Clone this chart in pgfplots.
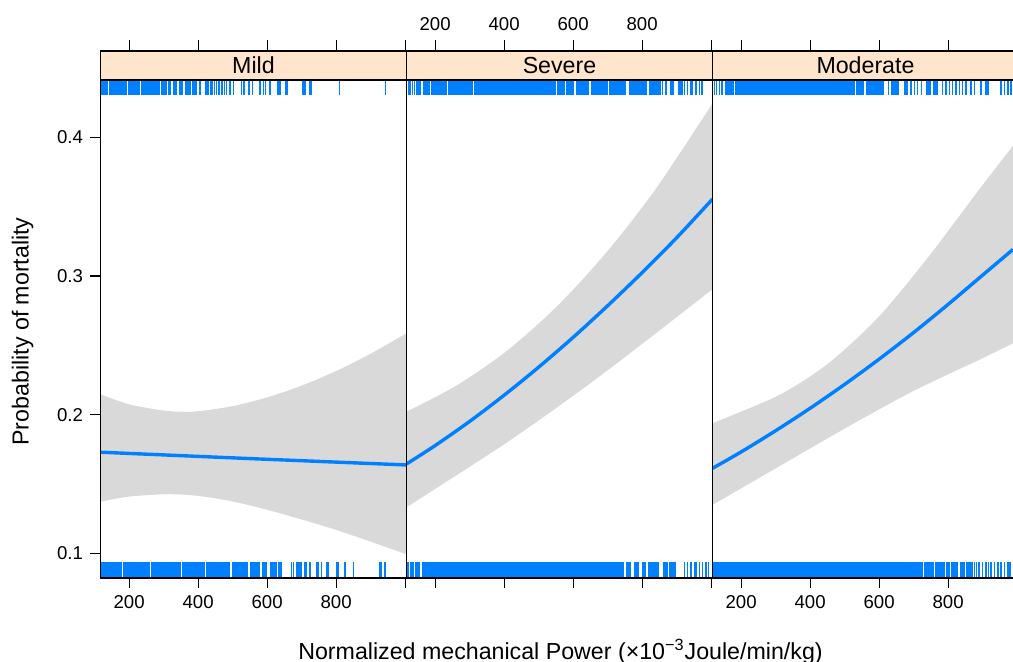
\documentclass[border=0pt]{standalone}
\usepackage{fontspec}
\setmainfont{Liberation Sans}
\usepackage{pgfplots}
\pgfplotsset{compat=1.18}
\usepgfplotslibrary{fillbetween}

\definecolor{rugc}{HTML}{0080FF}
\definecolor{fitc}{HTML}{0080FF}
\definecolor{bandc}{HTML}{D9D9D9}
\definecolor{stripc}{HTML}{FFE5CC}

\newcommand\ticksize{\fontsize{9.3}{11}\selectfont}
\newcommand\labsize{\fontsize{11.6}{13}\selectfont}

% rug heights (axis units)
\def\yt{0.43595}
\def\yb{0.0880}

\tikzset{strip/.style={fill=stripc, draw=black, line width=0.8pt}}

\pgfplotsset{
  panel/.style={
    scale only axis, width=153pt, height=263.5pt,
    xmin=117, xmax=1004, ymin=0.0823, ymax=0.4623,
    axis on top,
    tick align=outside, major tick length=5.25pt,
    xtick={200,400,600,800,1000}, xticklabels={200,400,600,800,},
    xtick pos=both,
    ytick=\empty,
    axis line style={line width=0.8pt},
    every tick/.style={black, line width=0.6pt},
    tick label style={font=\ticksize},
    /pgf/number format/assume math mode=true,
  },
  toprug/.style={rugc, line width=7.5pt, unbounded coords=jump, forget plot},
  botrug/.style={rugc, line width=7.85pt, unbounded coords=jump, forget plot},
  toptick/.style={draw=rugc, only marks, mark=|, mark size=3.75pt, mark options={draw=rugc, line width=0.7pt}, forget plot},
  bottick/.style={draw=rugc, only marks, mark=|, mark size=3.925pt, mark options={draw=rugc, line width=0.7pt}, forget plot},
  fitline/.style={fitc, line width=1.7pt, smooth},
}

\begin{document}
\begin{tikzpicture}

% ---------------- Mild ----------------
\begin{axis}[panel, name=p1, at={(50.25pt,42pt)}, anchor=south west,
  xticklabel pos=lower,
  ytick={0.1,0.2,0.3,0.4}, ytick pos=left,
  yticklabel style={/pgf/number format/.cd, fixed, fixed zerofill, precision=1}]
\addplot[name path=up, draw=none, smooth] coordinates {
  (117,0.2148) (200,0.2075) (300,0.2030) (353,0.2022) (400,0.2025) (500,0.2062)
  (600,0.2125) (700,0.2210) (800,0.2315) (900,0.2440) (1004,0.2588)};
\addplot[name path=lo, draw=none, smooth] coordinates {
  (117,0.1373) (200,0.1410) (311,0.1427) (400,0.1415) (500,0.1375) (600,0.1315)
  (700,0.1245) (800,0.1170) (900,0.1085) (1004,0.0994)};
\addplot[bandc] fill between[of=up and lo];
\addplot[fitline] coordinates {(117,0.1730) (560,0.1683) (1004,0.1638)};
% rugs
\addplot[toprug] coordinates {
  (118,\yt)(140,\yt)(141,nan)(142,\yt)(170,\yt)(171,nan)(172,\yt)(195,\yt)(196,nan)
  (197,\yt)(232,\yt)(233,nan)(234,\yt)(290,\yt)(291,nan)(292,\yt)(309,\yt)(310,nan)
  (314,\yt)(321,\yt)(322,nan)(326,\yt)(340,\yt)(341,nan)(345,\yt)(357,\yt)(358,nan)
  (362,\yt)(380,\yt)(381,nan)(382,\yt)(398,\yt)(399,nan)(402,\yt)(408,\yt)(409,nan)
  (420,\yt)(431,\yt)(432,nan)(433,\yt)(444,\yt)};
\addplot[toptick] coordinates {
  (447,\yt)(454,\yt)(461,\yt)(469,\yt)(476,\yt)(483,\yt)(492,\yt)(502,\yt)(526,\yt)
  (533,\yt)(547,\yt)(557,\yt)(579,\yt)(589,\yt)(596,\yt)(608,\yt)(632,\yt)(637,\yt)
  (654,\yt)(658,\yt)(702,\yt)(707,\yt)(712,\yt)(724,\yt)(729,\yt)(809,\yt)(944,\yt)};
\addplot[botrug] coordinates {
  (117,\yb)(180,\yb)(181,nan)(182,\yb)(260,\yb)(261,nan)(262,\yb)(350,\yb)(351,nan)
  (352,\yb)(420,\yb)(421,nan)(422,\yb)(492,\yb)(494,nan)(497,\yb)(545,\yb)(547,nan)
  (550,\yb)(579,\yb)(581,nan)(584,\yb)(599,\yb)(601,nan)(608,\yb)(628,\yb)(630,nan)
  (632,\yb)(642,\yb)};
\addplot[bottick] coordinates {
  (671,\yb)(676,\yb)(686,\yb)(690,\yb)(695,\yb)(700,\yb)(710,\yb)(715,\yb)(724,\yb)
  (744,\yb)(748,\yb)(758,\yb)(772,\yb)(777,\yb)(801,\yb)(806,\yb)(826,\yb)(850,\yb)
  (927,\yb)(932,\yb)(942,\yb)};
\end{axis}

% ---------------- Severe ----------------
\begin{axis}[panel, name=p2, at={(203.25pt,42pt)}, anchor=south west,
  xticklabel pos=upper, xticklabel style={yshift=1.5pt}]
\addplot[name path=up, draw=none, smooth] coordinates {
  (117,0.2022) (260,0.2208) (405,0.2455) (550,0.2774) (695,0.3166) (840,0.3630) (1004,0.4245)};
\addplot[name path=lo, draw=none, smooth] coordinates {
  (117,0.1333) (260,0.1561) (405,0.1795) (550,0.2047) (695,0.2311) (840,0.2588) (1004,0.2905)};
\addplot[bandc] fill between[of=up and lo];
\addplot[fitline] coordinates {
  (117,0.1645) (200,0.1778) (300,0.1952) (400,0.2141) (500,0.2343) (600,0.2558)
  (700,0.2786) (800,0.3025) (900,0.3276) (1004,0.3555)};
\addplot[toptick] coordinates {
  (122,\yt)(127,\yt)(134,\yt)(140,\yt)(147,\yt)(151,\yt)(156,\yt)
  (859,\yt)(869,\yt)(884,\yt)(889,\yt)
  (922,\yt)(932,\yt)(942,\yt)(946,\yt)(956,\yt)(966,\yt)(973,\yt)};
\addplot[toprug] coordinates {
  (164,\yt)(185,\yt)(186,nan)(188,\yt)(235,\yt)(236,nan)(238,\yt)(310,\yt)(311,nan)
  (313,\yt)(550,\yt)(551,nan)(552,\yt)(575,\yt)(576,nan)(578,\yt)(603,\yt)(605,nan)
  (608,\yt)(645,\yt)(648,nan)(652,\yt)(700,\yt)(701,nan)(703,\yt)(753,\yt)(757,nan)
  (761,\yt)(813,\yt)(817,nan)(821,\yt)(855,\yt)(860,nan)(903,\yt)(918,\yt)};
\addplot[botrug] coordinates {
  (117,\yb)(125,\yb)(126,nan)(128,\yb)(140,\yb)(141,nan)(143,\yb)(156,\yb)(158,nan)
  (161,\yb)(748,\yb)(750,nan)(753,\yb)(768,\yb)(772,nan)(777,\yb)(792,\yb)(796,nan)
  (800,\yb)(811,\yb)(813,nan)(816,\yb)(850,\yb)(855,nan)(860,\yb)(874,\yb)(876,nan)
  (879,\yb)(898,\yb)};
\addplot[bottick] coordinates {
  (922,\yb)(932,\yb)(942,\yb)(951,\yb)(956,\yb)(966,\yb)(975,\yb)(985,\yb)(993,\yb)};
\end{axis}

% ---------------- Moderate (cut at the right edge) ----------------
\begin{axis}[panel, name=p3, at={(356.25pt,42pt)}, anchor=south west,
  width=150.25pt, xmax=988,
  axis x line*=box, axis y line*=left,
  xticklabel pos=lower]
\addplot[name path=up, draw=none, smooth] coordinates {
  (117,0.1939) (309,0.2141) (454,0.2373) (599,0.2707) (744,0.3142) (889,0.3621) (988,0.3940)};
\addplot[name path=lo, draw=none, smooth] coordinates {
  (117,0.1350) (309,0.1626) (502,0.1903) (696,0.2167) (889,0.2395) (988,0.2515)};
\addplot[bandc] fill between[of=up and lo];
\addplot[fitline] coordinates {
  (117,0.1614) (200,0.1732) (300,0.1885) (400,0.2047) (500,0.2219) (600,0.2401)
  (700,0.2593) (800,0.2796) (900,0.3007) (988,0.3192)};
\addplot[toptick] coordinates {
  (122,\yt)(129,\yt)(137,\yt)(144,\yt)
  (692,\yt)(702,\yt)(712,\yt)(722,\yt)
  (784,\yt)(794,\yt)(804,\yt)(813,\yt)(823,\yt)(833,\yt)(842,\yt)(852,\yt)
  (866,\yt)(876,\yt)(895,\yt)(910,\yt)(915,\yt)(953,\yt)(963,\yt)(973,\yt)(982,\yt)};
\addplot[toprug] coordinates {
  (153,\yt)(178,\yt)(179,nan)(181,\yt)(531,\yt)(532,nan)(534,\yt)(557,\yt)(559,nan)
  (562,\yt)(615,\yt)(620,nan)(625,\yt)(630,\yt)(632,nan)(635,\yt)(659,\yt)(665,nan)
  (673,\yt)(683,\yt)(690,nan)(736,\yt)(750,\yt)(752,nan)(755,\yt)(770,\yt)};
\addplot[botrug] coordinates {
  (117,\yb)(538,\yb)(539,nan)(540,\yb)(726,\yb)(727,nan)(729,\yb)(760,\yb)(761,nan)
  (763,\yb)(790,\yb)(791,nan)(793,\yb)(805,\yb)(806,nan)(808,\yb)(830,\yb)(831,nan)
  (833,\yb)(850,\yb)(851,nan)(853,\yb)(871,\yb)};
\addplot[bottick] coordinates {
  (876,\yb)(883,\yb)(890,\yb)(900,\yb)(910,\yb)(917,\yb)(924,\yb)(934,\yb)(944,\yb)
  (953,\yb)(963,\yb)(973,\yb)(979,\yb)};
\end{axis}

% strips
\draw[strip] ([yshift=-14.5pt]p1.north west) rectangle (p1.north east);
\draw[strip] ([yshift=-14.5pt]p2.north west) rectangle (p2.north east);
\fill[stripc] ([yshift=-14.5pt]p3.north west) rectangle (p3.north east);
\draw[line width=0.8pt] (p3.north east) -- (p3.north west) -- ([yshift=-14.5pt]p3.north west)
  -- ([yshift=-14.5pt]p3.north east);
\node[font=\labsize] at (126.75pt,298.25pt) {Mild};
\node[font=\labsize] at (279.75pt,298.25pt) {Severe};
\node[font=\labsize] at (432.75pt,298.25pt) {Moderate};
% axis titles
\node[font=\labsize, rotate=90, anchor=base] at (14.25pt,165.25pt) {Probability of mortality};
\node[font=\labsize, anchor=base] at (280.25pt,1.35pt)
  {Normalized mechanical Power (×10\textsuperscript{−3}Joule/min/kg)};

\pgfresetboundingbox
\useasboundingbox (0,0) rectangle (506.5pt,331pt);
\end{tikzpicture}
\end{document}
